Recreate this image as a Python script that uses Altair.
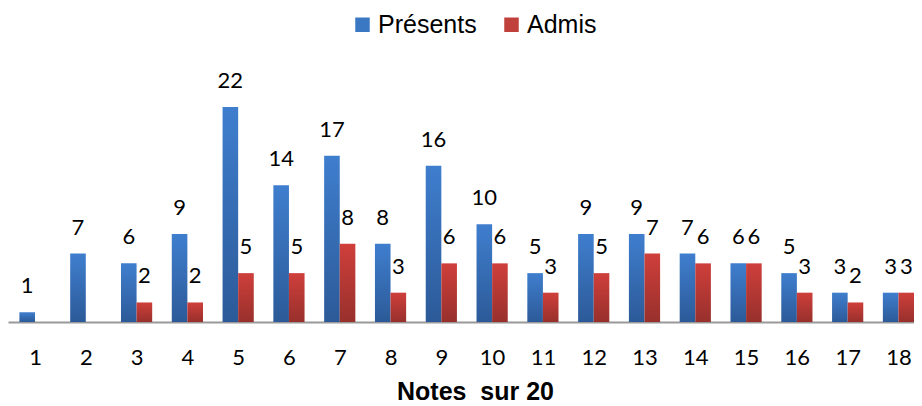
import altair as alt
import pandas as pd

notes = [1, 2, 3, 4, 5, 6, 7, 8, 9, 10, 11, 12, 13, 14, 15, 16, 17, 18]
presents = [1, 7, 6, 9, 22, 14, 17, 8, 16, 10, 5, 9, 9, 7, 6, 5, 3, 3]
admis = [0, 0, 2, 2, 5, 5, 8, 3, 6, 6, 3, 5, 7, 6, 6, 3, 2, 3]
series = ["Présents", "Admis"]
series_colors = ["#3A78C4", "#C0403C"]

df_p = pd.DataFrame({"n": notes, "v": presents})
df_a = pd.DataFrame({"n": notes, "v": admis})
df_leg = pd.DataFrame({"s": series})

x_enc = alt.X("n:Q",
              scale=alt.Scale(domain=[0.4684, 18.306], nice=False, zero=False, padding=0),
              axis=alt.Axis(title="Notes\u00a0\u00a0sur 20", values=notes, format="d",
                            labelAngle=0, ticks=False, tickSize=0, labelFlush=False,
                            labelOverlap=False,
                            labelFont="Lato", labelFontSize=22, labelColor="#000000",
                            labelBaseline="alphabetic", labelPadding=42,
                            domainColor="#999999", domainWidth=2,
                            titleFont="Liberation Sans", titleFontSize=25, titleFontWeight="bold",
                            titleColor="#000000", titleBaseline="alphabetic", titleY=77, titleX=467,
                            grid=False))
y_enc = alt.Y("v:Q", scale=alt.Scale(domain=[0, 32.13], nice=False, zero=True), axis=None)

blue_grad = {"gradient": "linear", "x1": 0, "y1": 0, "x2": 0, "y2": 1,
             "stops": [{"offset": 0, "color": "#3F7ECE"}, {"offset": 1, "color": "#2C5A98"}]}
red_grad = {"gradient": "linear", "x1": 0, "y1": 0, "x2": 0, "y2": 1,
            "stops": [{"offset": 0, "color": "#CF3F3B"}, {"offset": 1, "color": "#98302C"}]}

bw = 15.6
bars_p = alt.Chart(df_p).mark_bar(color=blue_grad, width=bw, xOffset=-bw / 2).encode(x=x_enc, y=y_enc)
bars_a = alt.Chart(df_a).mark_bar(color=red_grad, width=bw, xOffset=bw / 2).encode(x=x_enc, y=y_enc)

txt_p = alt.Chart(df_p).mark_text(font="Lato", fontSize=22, color="#000000", baseline="alphabetic",
                                  dy=-19, xOffset=-bw / 2).encode(x=x_enc, y=y_enc, text="v:Q")
txt_a = alt.Chart(df_a).transform_filter("datum.v > 0").mark_text(
    font="Lato", fontSize=22, color="#000000", baseline="alphabetic",
    dy=-19, xOffset=bw / 2).encode(x=x_enc, y=y_enc, text="v:Q")

legend_layer = alt.Chart(df_leg).mark_square(size=210, opacity=1).encode(
    x=alt.value(-100), y=alt.value(-100),
    color=alt.Color("s:N", sort=series, scale=alt.Scale(domain=series, range=series_colors),
                    legend=alt.Legend(title=None, orient="none", direction="horizontal",
                                      legendX=342, legendY=4, symbolType="square", symbolSize=210,
                                      symbolStrokeWidth=0, symbolOpacity=1,
                                      labelFont="Liberation Sans", labelFontSize=25,
                                      labelColor="#000000", labelOffset=3, columnPadding=22,
                                      padding=0)))

chart = alt.layer(bars_p, bars_a, txt_p, txt_a, legend_layer).properties(
    width=906, height=314,
    autosize=alt.AutoSizeParams(type="none"),
    padding={"left": 0, "top": 0, "right": 0, "bottom": 84},
    background="#FFFFFF",
).configure_view(stroke=None)

chart.save("out.html", embed_options={"renderer": "svg", "actions": False})
